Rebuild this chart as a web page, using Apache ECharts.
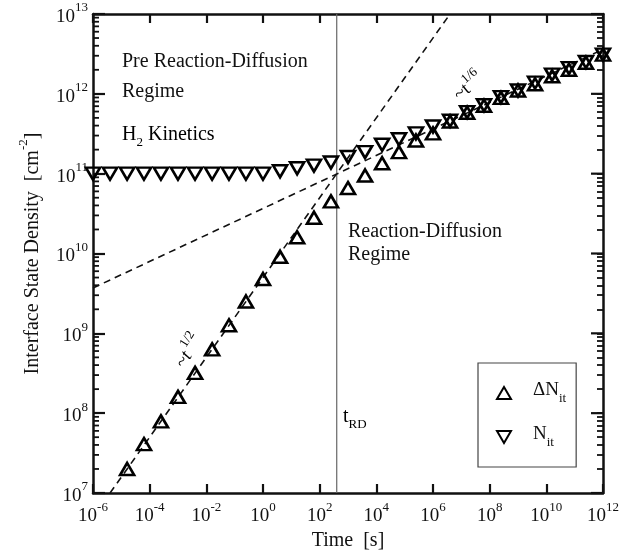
<!DOCTYPE html>
<html>
<head>
<meta charset="utf-8">
<script src="https://cdn.jsdelivr.net/npm/echarts@6/dist/echarts.min.js"></script>
<style>
  html, body { margin: 0; padding: 0; background: #fff; }
  #chart { width: 641px; height: 550px; }
</style>
</head>
<body>
<div id="chart"></div>
<script>
// time grid (s) and measured densities (cm^-2)
const deltaTime = [1.6e-5, 6.3e-5, 2.5e-4, 1e-3, 4e-3, 1.6e-2, 6.3e-2, 0.25, 1, 4, 16, 63, 250, 1e3, 4e3,
  1.6e4, 6.3e4, 2.5e5, 1e6, 4e6, 1.6e7, 6.3e7, 2.5e8, 1e9, 4e9, 1.6e10, 6.3e10, 2.5e11, 1e12];
const deltaValues = [2.0e7, 4.1e7, 7.9e7, 1.6e8, 3.2e8, 6.3e8, 1.26e9, 2.5e9, 4.8e9, 9.1e9, 1.6e10, 2.8e10,
  4.5e10, 6.6e10, 9.5e10, 1.35e11, 1.86e11, 2.6e11, 3.2e11, 4.5e11, 5.8e11, 7.1e11, 8.9e11, 1.1e12,
  1.32e12, 1.66e12, 2.0e12, 2.45e12, 3.1e12];
const nitTime = [1e-6, 4e-6, 1.6e-5, 6.3e-5, 2.5e-4, 1e-3, 4e-3, 1.6e-2, 6.3e-2, 0.25, 1, 4, 16, 63, 250,
  1e3, 4e3, 1.6e4, 6.3e4, 2.5e5, 1e6, 4e6, 1.6e7, 6.3e7, 2.5e8, 1e9, 4e9, 1.6e10, 6.3e10, 2.5e11, 1e12];
const nitValues = [1.0e11, 1.0e11, 1.0e11, 1.0e11, 1.0e11, 1.0e11, 1.0e11, 1.0e11, 1.0e11, 1.0e11, 1.0e11,
  1.07e11, 1.17e11, 1.26e11, 1.38e11, 1.62e11, 1.86e11, 2.3e11, 2.7e11, 3.2e11, 3.9e11, 4.6e11, 5.9e11,
  7.2e11, 9.1e11, 1.1e12, 1.38e12, 1.74e12, 2.1e12, 2.5e12, 3.1e12];

// guide lines (~t^1/2, ~t^1/6) and t_RD
const halfLineTime = [4e-6, 4e6];
const halfLineValues = [1e7, 1e13];
const sixthLineTime = [1e-6, 1e12];
const sixthLineValues = [3.7e9, 3.6e12];
const tRD = 400;
const tRDRange = [1e7, 1e13];

// axis ranges / tick exponents
const xRange = [1e-6, 1e12];
const yRange = [1e7, 1e13];
const xExpRange = [-6, 12];
const yExpRange = [7, 13];
const minorFactors = [2, 3, 4, 5, 6, 7, 8, 9];

const FONT = '"Liberation Serif", "Times New Roman", serif';
const INK = '#111';

// log ticks on the density axis: 2..9 x 10^n (minor) and 10^n (major)
const minorValues = [];
const majorValues = [];
for (let d = yExpRange[0]; d <= yExpRange[1]; d++) {
  majorValues.push(Math.pow(10, d));
  if (d < yExpRange[1]) minorFactors.forEach(f => minorValues.push(f * Math.pow(10, d)));
}
const rightTickExp = minorValues.concat(majorValues).map(Math.log10);

const powLabel = v => '{b|10}{s|' + v + '}';
const powRich = {
  b: {fontFamily: FONT, fontSize: 19, color: INK, lineHeight: 25, verticalAlign: 'bottom'},
  s: {fontFamily: FONT, fontSize: 13, color: INK, lineHeight: 13, verticalAlign: 'top'}
};
const subRich = {
  n: {fontFamily: FONT, fontSize: 20, color: INK, lineHeight: 24, verticalAlign: 'top'},
  u: {fontFamily: FONT, fontSize: 13, color: INK, lineHeight: 12, verticalAlign: 'bottom'}
};

const chart = echarts.init(document.getElementById('chart'), null, {renderer: 'canvas'});

const frameLine = {show: true, onZero: false, lineStyle: {color: INK, width: 2.5}};
const hidden = {show: false};

const expAxisX = (pos, labels) => ({
  type: 'value', position: pos, min: xExpRange[0], max: xExpRange[1], interval: 2,
  axisLine: frameLine,
  axisTick: {show: true, inside: true, length: 9, lineStyle: {color: INK, width: 2.2}},
  axisLabel: labels ? {show: true, margin: 8, formatter: powLabel, rich: powRich} : hidden,
  splitLine: hidden
});

const markerStyle = {color: 'rgba(255,255,255,0)', borderColor: '#000', borderWidth: 2.6, opacity: 1};

// short horizontal tick at a frame edge, placed through the log scale
const tickAt = (api, x, v, len) => {
  const p = api.coord([x, v]);
  return {type: 'line', shape: {x1: p[0], y1: p[1], x2: p[0] + len, y2: p[1]},
    style: {stroke: INK, lineWidth: len > 0 ? 1.8 : 2.2}};
};

const option = {
  animation: false,
  backgroundColor: '#fff',
  grid: {left: 93, right: 38, top: 14, bottom: 57, outerBoundsMode: 'none'},
  xAxis: [
    {type: 'log', logBase: 10, min: xRange[0], max: xRange[1], show: false},
    Object.assign(expAxisX('bottom', true), {
      name: 'Time  [s]', nameLocation: 'middle', nameGap: 31,
      nameTextStyle: {fontFamily: FONT, fontSize: 20, color: INK}
    }),
    expAxisX('top', false)
  ],
  yAxis: [
    {type: 'log', logBase: 10, min: yRange[0], max: yRange[1], show: false},
    {
      type: 'value', position: 'left', min: yExpRange[0], max: yExpRange[1], interval: 1,
      axisLine: frameLine,
      axisTick: {show: true, inside: true, length: 12, lineStyle: {color: INK, width: 2.2}},
      axisLabel: {show: true, margin: 5, formatter: powLabel, rich: powRich},
      splitLine: hidden,
      name: '{n|Interface State Density  [cm}{s|-2}{n|]}', nameLocation: 'middle', nameGap: 50,
      nameTextStyle: {
        rich: {
          n: {fontFamily: FONT, fontSize: 20, color: INK, lineHeight: 26, verticalAlign: 'bottom'},
          s: {fontFamily: FONT, fontSize: 13, color: INK, lineHeight: 13, verticalAlign: 'top'}
        }
      }
    },
    {
      type: 'value', position: 'right', min: yExpRange[0], max: yExpRange[1], interval: 1,
      axisLine: frameLine,
      axisTick: {show: true, inside: true, length: 6, customValues: rightTickExp, lineStyle: {color: INK, width: 1.8}},
      axisLabel: hidden,
      splitLine: hidden
    }
  ],
  legend: {
    orient: 'vertical', left: 478, top: 363,
    padding: [18, 10, 18, 18], itemGap: 20,
    itemWidth: 14, itemHeight: 12,
    borderColor: '#444', borderWidth: 1.2,
    data: [
      {name: 'dN', icon: 'path://M7,0 L14,12 L0,12 Z'},
      {name: 'N', icon: 'path://M0,0 L14,0 L7,12 Z'}
    ],
    formatter: name => name === 'dN' ? '{n|ΔN}{u|it}' : '{n|N}{u|it}',
    textStyle: {rich: {
      n: Object.assign({}, subRich.n, {fontSize: 19, padding: [0, 0, 0, 17]}),
      u: subRich.u
    }}
  },
  graphic: [
    {type: 'text', left: 122, top: 52, style: {text: 'Pre Reaction-Diffusion', font: '20px ' + FONT, fill: INK}},
    {type: 'text', left: 122, top: 82, style: {text: 'Regime', font: '20px ' + FONT, fill: INK}},
    {type: 'text', left: 122, top: 125, style: {text: '{n|H}{u|2}{n| Kinetics}', rich: subRich}},
    {type: 'text', left: 348, top: 222, style: {text: 'Reaction-Diffusion', font: '20px ' + FONT, fill: INK}},
    {type: 'text', left: 348, top: 245, style: {text: 'Regime', font: '20px ' + FONT, fill: INK}},
    {type: 'text', left: 343, top: 407, style: {text: '{n|t}{u|RD}', rich: subRich}},
    {type: 'text', x: 187, y: 350, rotation: Math.PI * 58 / 180,
      style: {text: '{b|~t}{s| 1/2}', align: 'center', verticalAlign: 'middle', rich: {
        b: {fontFamily: FONT, fontSize: 19, fontStyle: 'italic', color: INK, lineHeight: 24, verticalAlign: 'bottom'},
        s: {fontFamily: FONT, fontSize: 13, color: INK, lineHeight: 13, verticalAlign: 'top'}
      }}},
    {type: 'text', x: 467, y: 85, rotation: Math.PI * 40 / 180,
      style: {text: '{b|~t}{s|1/6}', align: 'center', verticalAlign: 'middle', rich: {
        b: {fontFamily: FONT, fontSize: 19, color: INK, lineHeight: 24, verticalAlign: 'bottom'},
        s: {fontFamily: FONT, fontSize: 13, color: INK, lineHeight: 13, verticalAlign: 'top'}
      }}}
  ],
  series: [
    {
      // left minor ticks
      type: 'custom', name: 'minorTicks', xAxisIndex: 0, yAxisIndex: 0, silent: true, clip: false,
      data: minorValues.map(v => [xRange[0], v]),
      renderItem: (params, api) => tickAt(api, xRange[0], api.value(1), 6),
      z: 1
    },
    {
      // right major ticks (longer)
      type: 'custom', name: 'majorTicks', xAxisIndex: 0, yAxisIndex: 0, silent: true, clip: false,
      data: majorValues.map(v => [xRange[1], v]),
      renderItem: (params, api) => tickAt(api, xRange[1], api.value(1), -12),
      z: 1
    },
    {
      type: 'line', name: 't_RD', xAxisIndex: 0, yAxisIndex: 0, symbol: 'none', silent: true,
      data: tRDRange.map(v => [tRD, v]),
      lineStyle: {color: '#666', width: 1.2}, z: 1
    },
    {
      type: 'line', name: 'half', xAxisIndex: 0, yAxisIndex: 0, symbol: 'none', silent: true,
      data: halfLineTime.map((t, i) => [t, halfLineValues[i]]),
      lineStyle: {color: INK, width: 1.6, type: [7, 5]}, z: 1
    },
    {
      type: 'line', name: 'sixth', xAxisIndex: 0, yAxisIndex: 0, symbol: 'none', silent: true,
      data: sixthLineTime.map((t, i) => [t, sixthLineValues[i]]),
      lineStyle: {color: INK, width: 1.6, type: [7, 5]}, z: 1
    },
    {
      type: 'scatter', name: 'dN', xAxisIndex: 0, yAxisIndex: 0,
      symbol: 'triangle', symbolSize: [14, 12],
      data: deltaTime.map((t, i) => [t, deltaValues[i]]),
      itemStyle: markerStyle, z: 3
    },
    {
      type: 'scatter', name: 'N', xAxisIndex: 0, yAxisIndex: 0,
      symbol: 'triangle', symbolSize: [14, 12], symbolRotate: 180,
      data: nitTime.map((t, i) => [t, nitValues[i]]),
      itemStyle: markerStyle, z: 3
    }
  ]
};

chart.setOption(option);
</script>
</body>
</html>
